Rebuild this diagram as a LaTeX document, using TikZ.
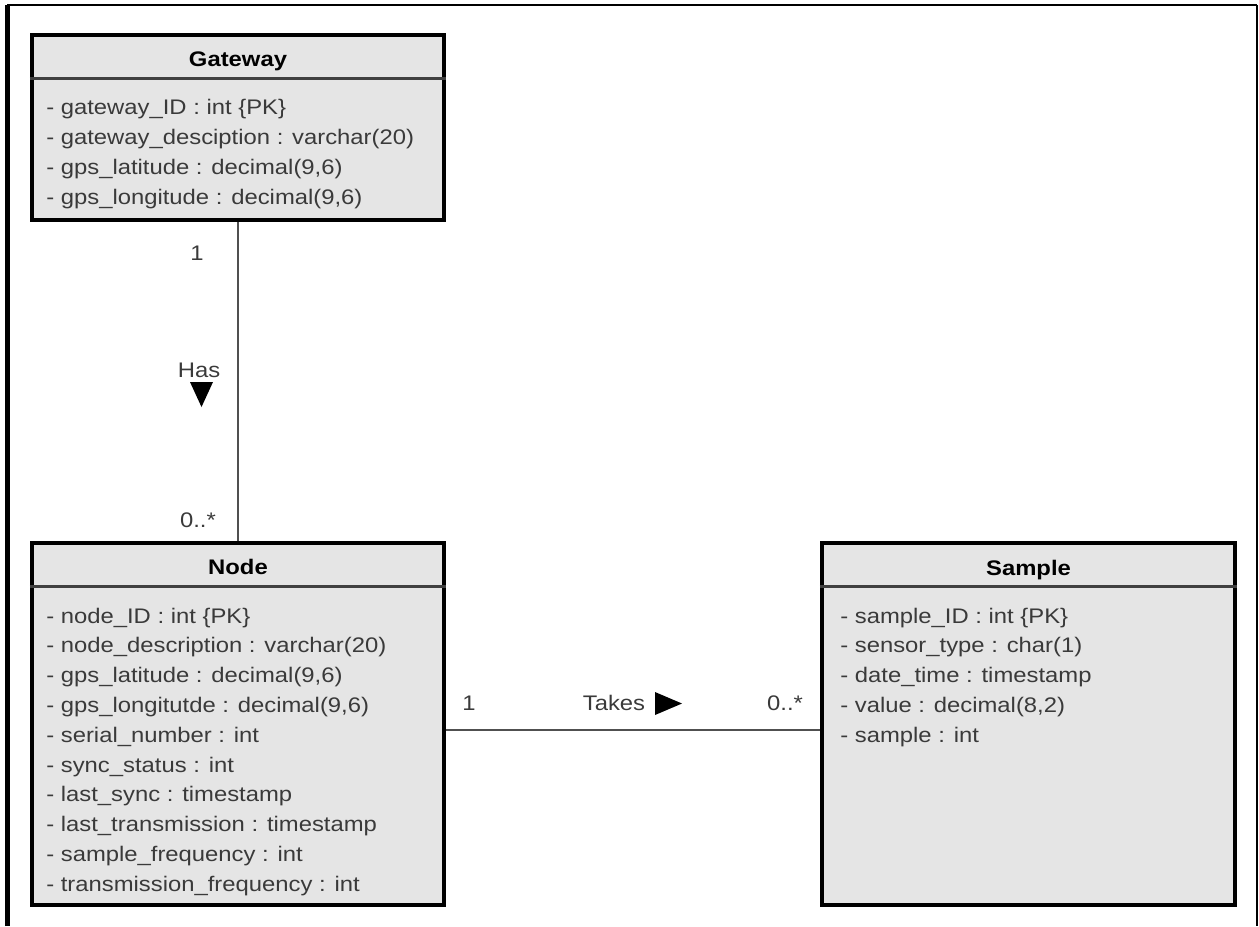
\documentclass[tikz,border=0pt]{standalone}
\usepackage{xcolor}
\usepackage{fontspec}
\setmainfont[FakeStretch=1.13]{Liberation Sans}
\usetikzlibrary{calc}
\usetikzlibrary{positioning}
\definecolor{boxgray}{HTML}{E5E5E5}
\definecolor{txtgray}{HTML}{3A3A3A}
\definecolor{linegray}{HTML}{505050}

\begin{document}
\begin{tikzpicture}[
    entity/.style  = {draw=black, line width=2.3pt, fill=boxgray, inner sep=0pt,
                      minimum width=8.24cm},
    header/.style  = {inner sep=0pt, text height=0.3cm, text depth=0.09cm,
                      font=\bfseries\fontsize{12}{16}\selectfont, text=black},
    divider/.style = {draw=linegray!80!black, line width=1.3pt},
    attr/.style    = {anchor=west, inner sep=0pt, text height=0.3cm, text depth=0.09cm,
                      text=txtgray, font=\fontsize{12}{16}\selectfont},
    link/.style    = {draw=linegray, line width=1.1pt},
    mult/.style    = {inner sep=0pt, text=txtgray, font=\fontsize{12}{16}\selectfont}
  ]
  \useasboundingbox (0,0) rectangle (25.18,-18.52);
  \draw[line width=1.6pt] (0.15,-0.1) -- (25.14,-0.1);
  \draw[line width=1pt] (25.14,-0.1) -- (25.14,-18.52);
  \draw[line width=2.8pt] (0.15,-18.52) -- (0.15,-0.1);

  \node[entity, minimum height=3.7cm]  (gw) at (4.76,-2.55)  {};
  \node[entity, minimum height=7.24cm] (nd) at (4.76,-14.48) {};
  \node[entity, minimum height=7.24cm, minimum width=8.26cm] (sm) at (20.57,-14.48) {};

  \node[header] (gw-h) at ([yshift=-0.56cm]gw.north) {Gateway};
  \node[header] (nd-h) at ([yshift=-0.57cm]nd.north) {Node};
  \node[header] (sm-h) at ([yshift=-0.58cm]sm.north) {Sample};
  \foreach \b in {gw,nd,sm}
    \draw[divider] ([yshift=-0.91cm]\b.north west) -- ([yshift=-0.91cm]\b.north east);

  \foreach \t [count=\i] in {{- gateway\_ID : int \{PK\}},
                             {- gateway\_desciption : varchar(20)},
                             {- gps\_latitude : decimal(9,6)},
                             {- gps\_longitude : decimal(9,6)}}
    \node[attr] (gw-a\i) at ([xshift=0.32cm, yshift={-0.92cm-0.6cm*\i}]gw.north west) {\t};

  \foreach \t [count=\i] in {{- node\_ID : int \{PK\}},
                             {- node\_description : varchar(20)},
                             {- gps\_latitude : decimal(9,6)},
                             {- gps\_longitutde : decimal(9,6)},
                             {- serial\_number : int},
                             {- sync\_status : int},
                             {- last\_sync : timestamp},
                             {- last\_transmission : timestamp},
                             {- sample\_frequency : int},
                             {- transmission\_frequency : int}}
    \node[attr] (nd-a\i) at ([xshift=0.32cm, yshift={-0.94cm-0.596cm*\i}]nd.north west) {\t};

  \foreach \t [count=\i] in {{- sample\_ID : int \{PK\}},
                             {- sensor\_type : char(1)},
                             {- date\_time : timestamp},
                             {- value : decimal(8,2)},
                             {- sample : int}}
    \node[attr] (sm-a\i) at ([xshift=0.4cm, yshift={-0.94cm-0.596cm*\i}]sm.north west) {\t};

  \draw[link] (gw.south) -- (nd.north);
  \draw[link] ([yshift=-0.12cm]nd.east) -- ([yshift=-0.12cm]sm.west);

  \node[mult] (gw-one)  at (3.94,-5.06)  {1};
  \node[mult] (has)     at (3.98,-7.4)   {Has};
  \node[mult] (gw-many) at (3.96,-10.4)  {0..*};
  \coordinate (has-tri) at (4.03,-7.64);
  \fill (has-tri) ++(-0.23,0) -- ++(0.46,0) -- ++(-0.23,-0.5) -- cycle;

  \node[mult] (nd-one)  at (9.38,-14.06)  {1};
  \node[mult] (takes)   at (12.28,-14.06) {Takes};
  \node[mult] (sm-many) at (15.7,-14.06)  {0..*};
  \coordinate (takes-tri) at (13.1,-14.07);
  \fill (takes-tri) ++(0,0.23) -- ++(0,-0.46) -- ++(0.54,0.23) -- cycle;
\end{tikzpicture}
\end{document}
